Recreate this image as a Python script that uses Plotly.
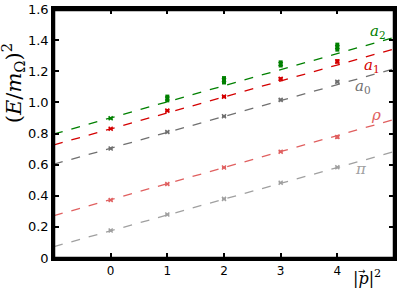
import plotly.graph_objects as go

# Data
p2 = [0, 1, 2, 3, 4]
fit_x = [-1, 5]

pi_y = [0.177, 0.280, 0.380, 0.483, 0.583]
pi_err = [0.005, 0.005, 0.005, 0.005, 0.006]
pi_fit = [0.073, 0.683]

rho_y = [0.373, 0.476, 0.582, 0.683, 0.778]
rho_err = [0.006, 0.006, 0.006, 0.008, 0.012]
rho_fit = [0.272, 0.890]

a0_y = [0.704, 0.810, 0.911, 1.016, 1.132]
a0_err = [0.006, 0.007, 0.007, 0.008, 0.010]
a0_fit = [0.603, 1.216]

a1_y = [0.830, 0.947, 1.037, 1.151, 1.263]
a1_err = [0.007, 0.010, 0.010, 0.011, 0.015]
a1_fit = [0.727, 1.343]

a2_y = [0.898, 1.025, 1.142, 1.247, 1.355]
a2_err = [0.008, 0.025, 0.027, 0.023, 0.029]
a2_fit = [0.797, 1.417]

series = [
    ("π", pi_y, pi_err, pi_fit, "#a0a0a0"),
    ("ρ", rho_y, rho_err, rho_fit, "#e06060"),
    ("a0", a0_y, a0_err, a0_fit, "#707070"),
    ("a1", a1_y, a1_err, a1_fit, "#d40000"),
    ("a2", a2_y, a2_err, a2_fit, "#008000"),
]

fig = go.Figure()
for name, y, e, f, c in series:
    fig.add_trace(go.Scatter(x=fit_x, y=f, mode="lines",
                             line=dict(color=c, width=1.3, dash="dash"),
                             showlegend=False, hoverinfo="skip"))
    fig.add_trace(go.Scatter(x=p2, y=y, mode="markers",
                             marker=dict(symbol="x-thin", size=4, color=c,
                                         line=dict(color=c, width=1.5)),
                             error_y=dict(type="data", array=e, visible=True,
                                          color=c, thickness=4, width=0),
                             showlegend=False, name=name))

labels = [
    (4.72, 1.455, "<i>a</i><sub>2</sub>", "#008000"),
    (4.62, 1.24, "<i>a</i><sub>1</sub>", "#d40000"),
    (4.45, 1.10, "<i>a</i><sub>0</sub>", "#707070"),
    (4.68, 0.92, "<i>ρ</i>", "#e06060"),
    (4.42, 0.575, "<i>π</i>", "#a0a0a0"),
]
for x, y, t, c in labels:
    fig.add_annotation(x=x, y=y, text=t, showarrow=False,
                       font=dict(family="DejaVu Serif", size=15, color=c))

# x-axis label |p|^2 with vector arrow
fig.add_annotation(x=0.968, y=-0.03, xref="paper", yref="paper",
                   xanchor="right", yanchor="top",
                   text="|<i>p</i>|<sup>2</sup>", showarrow=False,
                   font=dict(family="DejaVu Serif", size=16, color="black"))
fig.add_annotation(x=0.905, y=-0.025, xref="paper", yref="paper",
                   xanchor="center", yanchor="top",
                   text="→", showarrow=False,
                   font=dict(family="DejaVu Sans", size=9, color="black"))

# y-axis title
fig.add_annotation(x=-0.122, y=0.70, xref="paper", yref="paper",
                   xanchor="center", yanchor="middle", textangle=-90,
                   text="(<i>E</i>/<i>m</i><sub>Ω</sub>)<sup>2</sup>", showarrow=False,
                   font=dict(family="DejaVu Serif", size=21, color="black"))

fig.add_shape(type="rect", xref="paper", yref="paper", x0=0, y0=0, x1=1, y1=1,
              line=dict(color="black", width=2.5), layer="above")
fig.add_shape(type="line", xref="paper", yref="paper", x0=0, y0=0.996, x1=1, y1=0.996,
              line=dict(color="black", width=2.5), layer="above")

fig.update_xaxes(range=[-1, 5], tickvals=[0, 1, 2, 3, 4],
                 ticks="inside", ticklen=5, tickwidth=2, tickcolor="black",
                 showline=True, linecolor="black", linewidth=2.5, mirror="ticks",
                 showgrid=False, zeroline=False, ticklabeloverflow="allow",
                 tickfont=dict(family="DejaVu Sans", size=12, color="black"))
fig.update_yaxes(range=[0, 1.6], tickvals=[0, 0.2, 0.4, 0.6, 0.8, 1.0, 1.2, 1.4, 1.6],
                 ticktext=["0", "0.2", "0.4", "0.6", "0.8", "1.0", "1.2", "1.4", "1.6"],
                 ticks="inside", ticklen=5, tickwidth=2, tickcolor="black",
                 showline=True, linecolor="black", linewidth=2.5, mirror="ticks",
                 showgrid=False, zeroline=False, ticklabeloverflow="allow",
                 tickfont=dict(family="DejaVu Sans", size=13, color="black"))

fig.update_layout(width=399, height=288, margin=dict(l=54, r=2, t=7, b=30),
                  plot_bgcolor="white", paper_bgcolor="white")
fig.write_html("out.html", config={"displayModeBar": False},
               post_script="document.body.style.margin='0';document.body.style.padding='0';document.body.style.overflow='hidden';")
